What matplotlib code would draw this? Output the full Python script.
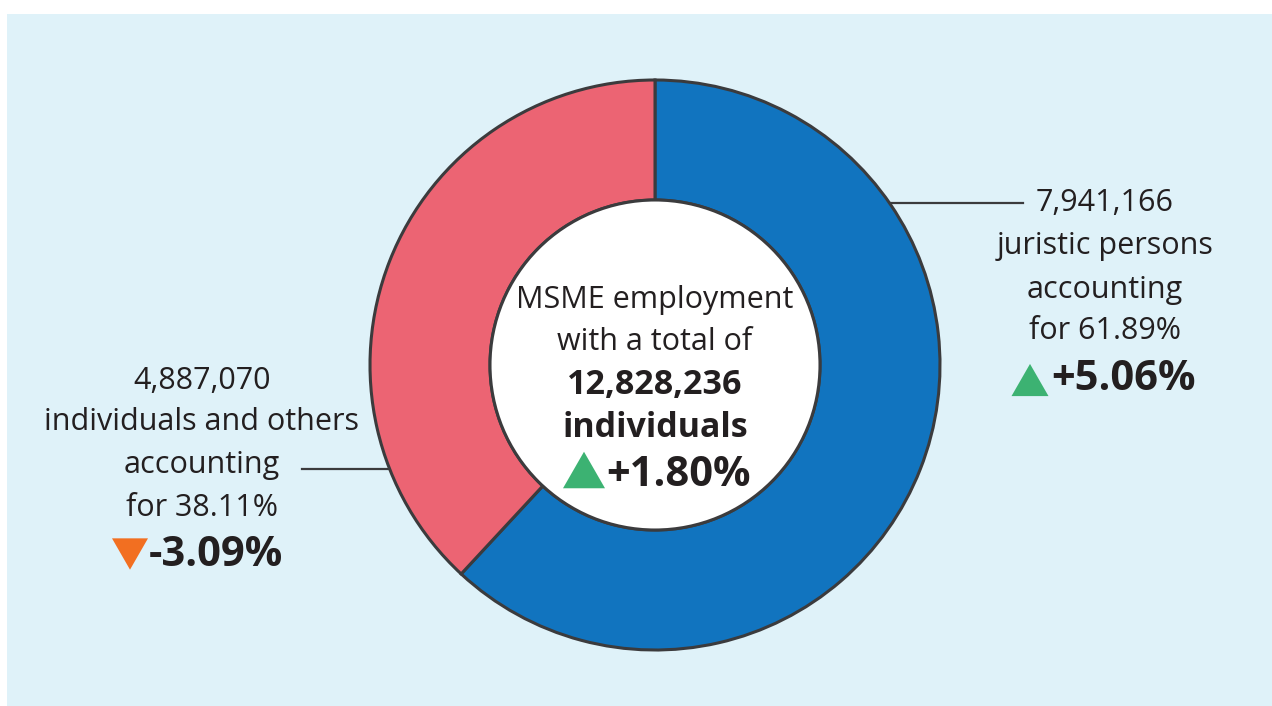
import matplotlib
matplotlib.use("Agg")
import matplotlib.pyplot as plt
from matplotlib.patches import Circle, Rectangle, Polygon

# Employment by enterprise type
categories = ["juristic persons", "individuals and others"]
employees = [7941166, 4887070]
shares = ["61.89%", "38.11%"]
changes = ["+5.06%", "-3.09%"]
total = 12828236
total_change = "+1.80%"

BG = "#dff2f9"
BLUE = "#1174bf"
PINK = "#ec6473"
EDGE = "#3b3b3d"
TEXT = "#231f20"
GREEN = "#3cb272"
ORANGE = "#f26f21"

plt.rcParams["font.family"] = ["Open Sans", "DejaVu Sans"]

W, H = 1272, 706
fig = plt.figure(figsize=(W / 100, H / 100), dpi=100)
ax = fig.add_axes([0, 0, 1, 1])

# panel background
ax.add_patch(Rectangle((7, 0), W - 7, H - 14, facecolor=BG, edgecolor="none", zorder=0))

cx, cy = 655, H - 365
r_out, r_in = 285, 165

ax.pie(employees, colors=[BLUE, PINK], startangle=90, counterclock=False,
       center=(cx, cy), radius=r_out, frame=True,
       wedgeprops=dict(width=r_out - r_in, edgecolor=EDGE, linewidth=2.2))
ax.set_xlim(0, W)
ax.set_ylim(0, H)
ax.set_aspect("equal")
ax.axis("off")
ax.add_patch(Circle((cx, cy), r_in, facecolor="white", edgecolor=EDGE, linewidth=2.2, zorder=3))


def tri(x, y, size, up, color):
    h = size * 0.87
    if up:
        pts = [(x - size / 2, y - h / 2), (x + size / 2, y - h / 2), (x, y + h / 2)]
    else:
        pts = [(x - size / 2, y + h / 2), (x + size / 2, y + h / 2), (x, y - h / 2)]
    ax.add_patch(Polygon(pts, closed=True, facecolor=color, edgecolor="none", zorder=4))


REG = 22
MID = 24.5
BIG = 30

# leader lines
ax.plot([890, 1023], [H - 203, H - 203], color=EDGE, lw=1.6, zorder=2)
ax.plot([302, 389], [H - 469, H - 469], color=EDGE, lw=1.6, zorder=2)

# right label
rx = 1105
for txt, y in [(f"{employees[0]:,}", 203), (categories[0], 246),
               ("accounting", 290), (f"for {shares[0]}", 331)]:
    ax.text(rx, H - y, txt, ha="center", va="center", fontsize=REG, color=TEXT, zorder=5)
ax.text(1051, H - 380, changes[0], ha="left", va="center", fontsize=BIG,
        fontweight="bold", color=TEXT, zorder=5)
tri(1030, H - 380, 37, True, GREEN)

# left label
lx = 202
for txt, y in [(f"{employees[1]:,}", 381), (categories[1], 422),
               ("accounting", 465), (f"for {shares[1]}", 508)]:
    ax.text(lx, H - y, txt, ha="center", va="center", fontsize=REG, color=TEXT, zorder=5)
ax.text(149, H - 555, changes[1], ha="left", va="center", fontsize=BIG,
        fontweight="bold", color=TEXT, zorder=5)
tri(130, H - 554, 36, False, ORANGE)

# centre label
ax.text(cx, H - 300, "MSME employment", ha="center", va="center", fontsize=REG, color=TEXT, zorder=5)
ax.text(cx, H - 342, "with a total of", ha="center", va="center", fontsize=REG, color=TEXT, zorder=5)
ax.text(cx, H - 385, f"{total:,}", ha="center", va="center", fontsize=MID,
        fontweight="bold", color=TEXT, zorder=5)
ax.text(cx, H - 428, "individuals", ha="center", va="center", fontsize=MID,
        fontweight="bold", color=TEXT, zorder=5)
ax.text(606, H - 475, total_change, ha="left", va="center", fontsize=BIG,
        fontweight="bold", color=TEXT, zorder=5)
tri(584, H - 470, 42, True, GREEN)

fig.savefig("out.png", dpi=100, facecolor="white")
